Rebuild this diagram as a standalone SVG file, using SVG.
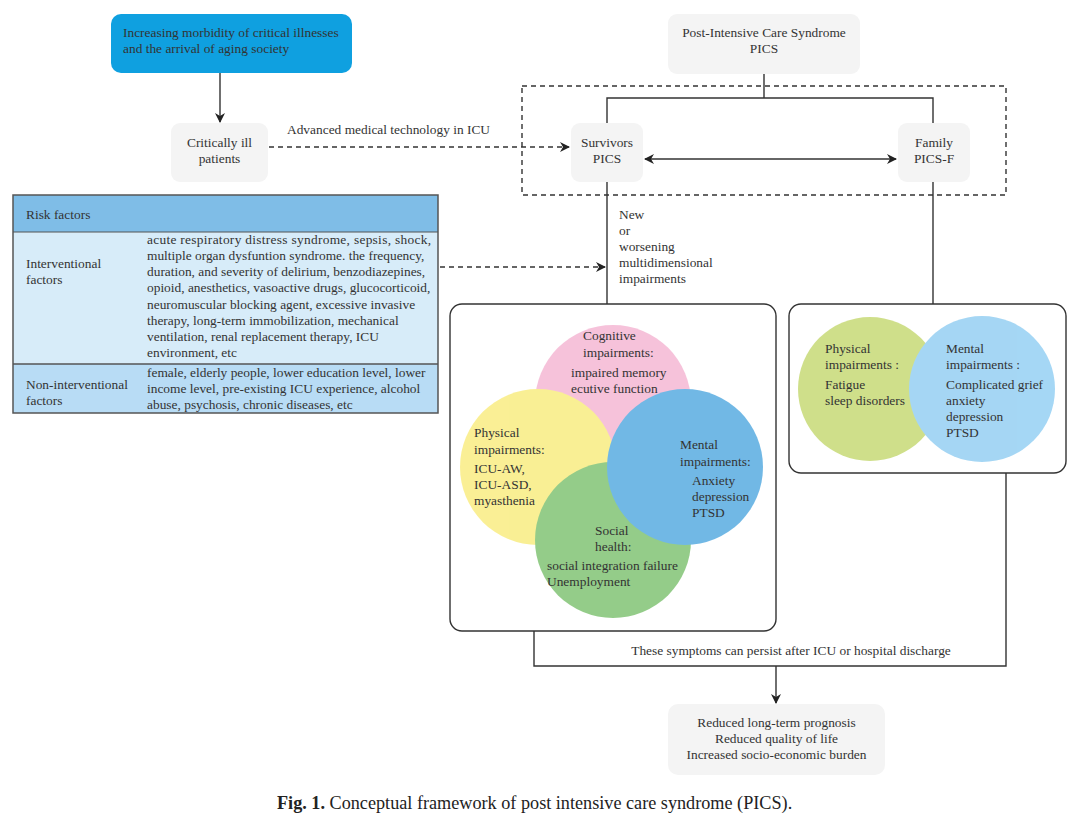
<svg xmlns="http://www.w3.org/2000/svg" width="1080" height="821" viewBox="0 0 1080 821">
<defs>
<style>
text{font-family:"Liberation Serif","Times New Roman",serif;font-size:13.4px;fill:#333;}
.c{text-anchor:middle;}
.gray{fill:#f4f4f4;}
.ln{fill:none;stroke:#333;stroke-width:1.4;}
.dash{fill:none;stroke:#333;stroke-width:1.4;stroke-dasharray:5,4;}
.panel{fill:#fff;stroke:#333;stroke-width:1.4;}
.cap{font-size:18.2px;fill:#222;}
</style>
<marker id="ah" markerWidth="10" markerHeight="10" refX="9" refY="5" orient="auto" markerUnits="userSpaceOnUse">
<path d="M0,0 L10,5 L0,10 L3,5 Z" fill="#222"/>
</marker>
<marker id="ahs" markerWidth="10" markerHeight="10" refX="1" refY="5" orient="auto" markerUnits="userSpaceOnUse">
<path d="M10,0 L0,5 L10,10 L7,5 Z" fill="#222"/>
</marker>
</defs>
<rect width="1080" height="821" fill="#fff"/>

<g id="aging">
<rect x="111" y="14" width="241" height="59" rx="10" fill="#0fa0e0"/>
<text x="123" y="37">Increasing morbidity of critical illnesses</text>
<text x="123" y="53">and the arrival of aging society</text>
</g>

<g id="critically-ill">
<rect class="gray" x="171" y="123" width="97" height="59" rx="9"/>
<text class="c" x="219.5" y="147">Critically ill</text>
<text class="c" x="219.5" y="163">patients</text>
</g>

<g id="pics">
<rect class="gray" x="668" y="14" width="192" height="60" rx="9"/>
<text class="c" x="764" y="37">Post-Intensive Care Syndrome</text>
<text class="c" x="764" y="53">PICS</text>
</g>

<g id="pics-frame">
<rect class="dash" x="522" y="86" width="484" height="109"/>
</g>

<g id="survivors">
<rect class="gray" x="571" y="123" width="72" height="59" rx="9"/>
<text class="c" x="607" y="147">Survivors</text>
<text class="c" x="607" y="163">PICS</text>
</g>

<g id="family">
<rect class="gray" x="898" y="123" width="72" height="59" rx="9"/>
<text class="c" x="934" y="147">Family</text>
<text class="c" x="934" y="163">PICS-F</text>
</g>

<g id="risk-factors">
<rect x="13" y="195" width="425" height="37" fill="#7fbde7"/>
<rect x="13" y="232" width="425" height="132" fill="#d7ecf9"/>
<rect x="13" y="364" width="425" height="49" fill="#b8dcf5"/>
<rect x="13" y="195" width="425" height="218" fill="none" stroke="#555" stroke-width="1.5"/>
<line x1="13" y1="232" x2="438" y2="232" stroke="#555" stroke-width="1"/>
<line x1="13" y1="364" x2="438" y2="364" stroke="#555" stroke-width="1.5"/>
<text x="26" y="219">Risk factors</text>
<text x="26" y="268">Interventional</text>
<text x="26" y="284">factors</text>
<text x="147" y="244" textLength="284" lengthAdjust="spacing">acute respiratory distress syndrome, sepsis, shock,</text>
<text x="147" y="260">multiple organ dysfuntion syndrome. the frequency,</text>
<text x="147" y="276">duration, and severity of delirium, benzodiazepines,</text>
<text x="147" y="292">opioid, anesthetics, vasoactive drugs, glucocorticoid,</text>
<text x="147" y="309">neuromuscular blocking agent, excessive invasive</text>
<text x="147" y="325">therapy, long-term immobilization, mechanical</text>
<text x="147" y="341">ventilation, renal replacement therapy, ICU</text>
<text x="147" y="357">environment, etc</text>
<text x="26" y="389">Non-interventional</text>
<text x="26" y="405">factors</text>
<text x="147" y="377">female, elderly people, lower education level, lower</text>
<text x="147" y="393">income level, pre-existing ICU experience, alcohol</text>
<text x="147" y="409">abuse, psychosis, chronic diseases, etc</text>
</g>

<g id="survivor-impairments">
<rect class="panel" x="450" y="304" width="326" height="327" rx="12"/>
<g opacity="0.68">
<circle cx="613" cy="403" r="78" fill="#f3a6ca"/>
<circle cx="538" cy="467" r="78" fill="#f7e863"/>
<circle cx="613" cy="540" r="78" fill="#62b552"/>
<circle cx="685" cy="467" r="78" fill="#2f98da"/>
</g>
<text x="583" y="340">Cognitive</text>
<text x="583" y="357">impairments:</text>
<text x="571" y="377">impaired memory</text>
<text x="571" y="393">ecutive function</text>
<text x="474" y="437">Physical</text>
<text x="474" y="454">impairments:</text>
<text x="474" y="473">ICU-AW,</text>
<text x="474" y="489">ICU-ASD,</text>
<text x="474" y="505">myasthenia</text>
<text x="680" y="449">Mental</text>
<text x="680" y="466">impairments:</text>
<text x="692" y="485">Anxiety</text>
<text x="692" y="501">depression</text>
<text x="692" y="517">PTSD</text>
<text x="595" y="535">Social</text>
<text x="595" y="551">health:</text>
<text x="547" y="570">social integration failure</text>
<text x="547" y="586">Unemployment</text>
</g>

<g id="family-impairments">
<rect class="panel" x="789" y="304" width="277" height="169" rx="12"/>
<g opacity="0.8">
<circle cx="870" cy="389" r="72" fill="#c4d86e"/>
<circle cx="982" cy="389" r="73" fill="#8fcdf2"/>
</g>
<text x="825" y="353">Physical</text>
<text x="825" y="369">impairments :</text>
<text x="825" y="389">Fatigue</text>
<text x="825" y="405">sleep disorders</text>
<text x="946" y="353">Mental</text>
<text x="946" y="369">impairments :</text>
<text x="946" y="389">Complicated grief</text>
<text x="946" y="405">anxiety</text>
<text x="946" y="421">depression</text>
<text x="946" y="437">PTSD</text>
</g>

<g id="outcome">
<rect class="gray" x="668" y="704" width="217" height="71" rx="10"/>
<text class="c" x="776.5" y="727">Reduced long-term prognosis</text>
<text class="c" x="776.5" y="743">Reduced quality of life</text>
<text class="c" x="776.5" y="759">Increased socio-economic burden</text>
</g>

<g id="connectors">
<line class="ln" x1="220" y1="73" x2="220" y2="122" marker-end="url(#ah)"/>
<line class="dash" x1="269" y1="147" x2="569" y2="147" marker-end="url(#ah)"/>
<text x="287" y="134">Advanced medical technology in ICU</text>
<polyline class="ln" points="764,74 764,98"/>
<polyline class="ln" points="607,123 607,98 933,98 933,123"/>
<line class="ln" x1="645" y1="159" x2="896" y2="159" marker-start="url(#ahs)" marker-end="url(#ah)"/>
<line class="ln" x1="607" y1="182" x2="607" y2="304"/>
<line class="ln" x1="933" y1="182" x2="933" y2="304"/>
<line class="dash" x1="440" y1="267" x2="605" y2="267" marker-end="url(#ah)"/>
<text x="619" y="219">New</text>
<text x="619" y="235">or</text>
<text x="619" y="251">worsening</text>
<text x="619" y="267">multidimensional</text>
<text x="619" y="283">impairments</text>
<polyline class="ln" points="534,631 534,666 1006,666 1006,473"/>
<text class="c" x="791" y="655">These symptoms can persist after ICU or hospital discharge</text>
<line class="ln" x1="776" y1="666" x2="776" y2="703" marker-end="url(#ah)"/>
</g>

<text class="cap" x="277" y="809"><tspan font-weight="bold">Fig. 1.</tspan> Conceptual framework of post intensive care syndrome (PICS).</text>
</svg>
